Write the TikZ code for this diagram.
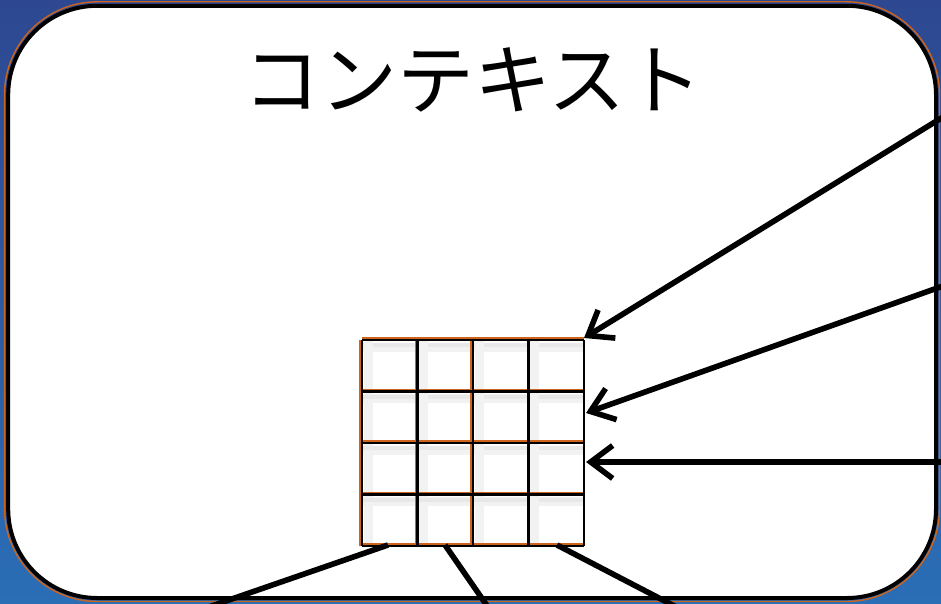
\documentclass[tikz,border=0pt]{standalone}
\usepackage{fontspec}
\newfontfamily\jpfont{Noto Sans CJK JP}
\usetikzlibrary{arrows.meta,calc}
\definecolor{bgtop}{RGB}{45,72,145}
\definecolor{bgbot}{RGB}{42,110,182}
\definecolor{edgeorange}{RGB}{205,100,30}
\tikzset{
  conn/.style={line width=5.6pt, line cap=butt},
  arr/.style={conn, -{Straight Barb[length=22pt,width=33pt,line width=5.6pt]}},
  gridline/.style={line width=2.2pt, black},
  glowline/.style={line width=1.8pt, edgeorange},
  shadowwide/.style={line width=9pt, black!5},
  shadownarrow/.style={line width=4pt, black!9},
}
\begin{document}
\begin{tikzpicture}[x=1pt,y=-1pt]
\useasboundingbox (0,0) rectangle (941,604);
\clip (0,0) rectangle (941,604);
% background
\shade[top color=bgtop, bottom color=bgbot] (0,0) rectangle (941,604);
% outer rounded panel
\draw[edgeorange, line width=1.4pt, rounded corners=93pt] (4.5,1.8) rectangle (939.5,601.5);
\draw[fill=white, draw=black, line width=4pt, rounded corners=89pt] (8.2,5.8) rectangle (936,598);
% title
\node[font=\jpfont\fontsize{77}{82}\selectfont, inner sep=0pt] (title) at (473,80) {コンテキスト};
% grid
\node[minimum width=222pt, minimum height=206pt, inner sep=0pt, outer sep=0pt] (grid) at (473,443) {};
% shadows
\foreach \i in {0,...,3}{
  \draw[shadowwide] ($(grid.north west)+(0,{\i*51.5+7})$) -- ++(222,0);
  \draw[shadownarrow] ($(grid.north west)+(0,{\i*51.5+5})$) -- ++(222,0);
  \draw[shadowwide] ($(grid.north west)+({\i*55.5+6},0)$) -- ++(0,206);
}
\foreach \i in {0,...,4}{
  \draw[glowline] ($(grid.north west)+(0,{\i*51.5-1.9})$) -- ++(222,0);
}
\foreach \i in {0,1,2}{
  \draw[glowline] ($(grid.north west)+({\i*55.5-1.9},0)$) -- ++(0,206);
}
\foreach \i in {0,...,4}{
  \draw[gridline] ($(grid.north west)+(0,{\i*51.5})$) -- ++(222,0);
  \draw[gridline] ($(grid.north west)+({\i*55.5},0)$) -- ++(0,206);
}
% arrow sources and targets
\coordinate (s1) at (943,117);
\coordinate (s2) at (943,286);
\coordinate (s3) at (943,462);
\coordinate (t1) at ($(grid.north east)+(0,-2)$);
\coordinate (t2) at ($(grid.north east)+(2,73)$);
\coordinate (t3) at ($(grid.north east)+(2,122)$);
\draw[arr] (s1) -- (t1);
\draw[arr] (s2) -- (t2);
\draw[arr] (s3) -- (t3);
% bottom lines
\coordinate (b1) at ($(grid.south west)+(26,-1)$);
\coordinate (b2) at ($(grid.south west)+(83,-1)$);
\coordinate (b3) at ($(grid.south west)+(195,-1)$);
\coordinate (e1) at (200,610);
\coordinate (e2) at (490,610);
\coordinate (e3) at (682,610);
\draw[conn] (b1) -- (e1);
\draw[conn] (b2) -- (e2);
\draw[conn] (b3) -- (e3);
\end{tikzpicture}
\end{document}
